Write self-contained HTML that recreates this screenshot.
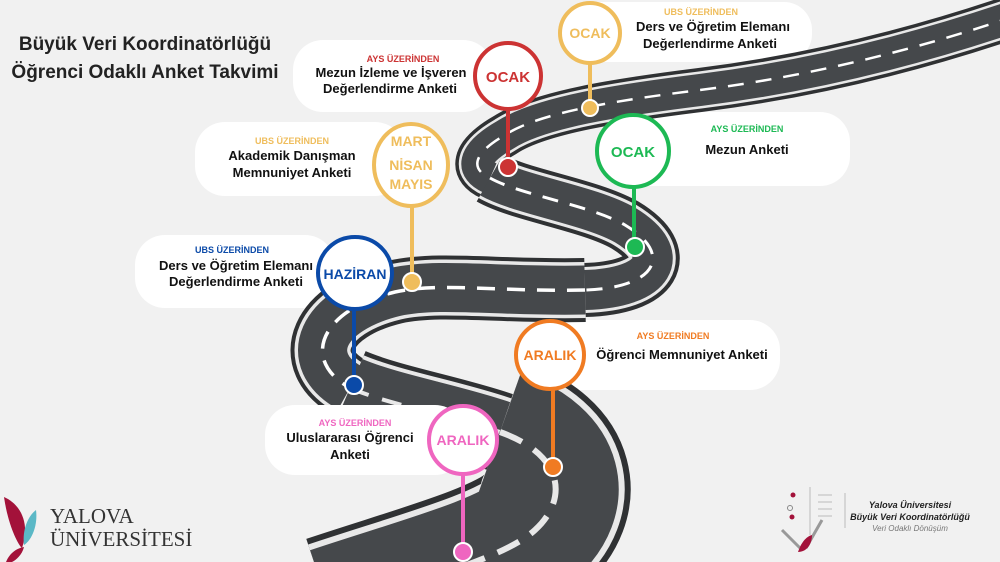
<!DOCTYPE html>
<html><head><meta charset="utf-8"><style>
html,body{margin:0;padding:0;width:1000px;height:562px;overflow:hidden;background:#f1f1f1;font-family:"Liberation Sans",sans-serif}
svg{display:block;position:absolute;left:0;top:0}
</style></head><body>
<svg width="1000" height="562" viewBox="0 0 1000 562" xmlns="http://www.w3.org/2000/svg" font-family="Liberation Sans, sans-serif" overflow="hidden">
<rect width="1000" height="562" fill="#f1f1f1"/>
<defs>
<path id="p1" d="M1015,16 C930,45 820,75 700,90 C620,100 540,112 505,135 C470,155 472,170 490,178"/>
<path id="p2" d="M490,178 C520,195 590,205 625,225 C675,255 655,288 585,290"/>
<path id="p3" d="M585,290 C500,292 440,282 395,292 C320,310 300,360 350,388"/>
<path id="p4" d="M350,388 C390,405 450,415 500,432"/>
<path id="p5" d="M500,432 C565,455 568,500 535,530 C505,558 420,580 330,610"/>
</defs>
<!-- cards -->
<g fill="#fff">
<rect x="565" y="2" width="247" height="60" rx="28"/>
<rect x="293" y="40" width="200" height="72" rx="30"/>
<rect x="610" y="112" width="240" height="74" rx="30"/>
<rect x="195" y="122" width="210" height="74" rx="30"/>
<rect x="135" y="235" width="200" height="73" rx="30"/>
<rect x="525" y="320" width="255" height="70" rx="30"/>
</g>
<!-- road -->
<g fill="none" stroke-linecap="butt">
<use href="#p1" stroke="#2f3133" stroke-width="44"/>
<use href="#p2" stroke="#2f3133" stroke-width="54"/>
<use href="#p3" stroke="#2f3133" stroke-width="64"/>
<use href="#p4" stroke="#2f3133" stroke-width="80"/>
<use href="#p5" stroke="#2f3133" stroke-width="150"/>
<use href="#p1" stroke="#e8e8e8" stroke-width="37"/>
<use href="#p2" stroke="#e8e8e8" stroke-width="46"/>
<use href="#p3" stroke="#e8e8e8" stroke-width="56"/>
<use href="#p4" stroke="#e8e8e8" stroke-width="71"/>
<use href="#p5" stroke="#e8e8e8" stroke-width="138"/>
<use href="#p1" stroke="#45484b" stroke-width="32"/>
<use href="#p2" stroke="#45484b" stroke-width="40"/>
<use href="#p3" stroke="#45484b" stroke-width="49"/>
<use href="#p4" stroke="#45484b" stroke-width="63"/>
<use href="#p5" stroke="#45484b" stroke-width="126"/>
<use href="#p1" stroke="#fff" stroke-width="2.5" stroke-dasharray="16 12"/>
<use href="#p2" stroke="#fff" stroke-width="3" stroke-dasharray="16 12"/>
<use href="#p3" stroke="#fff" stroke-width="3.5" stroke-dasharray="18 12"/>
<use href="#p4" stroke="#e8e8e8" stroke-width="4" stroke-dasharray="20 14"/>
<use href="#p5" stroke="#e8e8e8" stroke-width="6" stroke-dasharray="24 14"/>
</g>
<rect x="265" y="405" width="200" height="70" rx="30" fill="#fff"/>
<!-- title -->
<g font-weight="bold" font-size="19" fill="#222" text-anchor="middle">
<text x="145" y="50">Büyük Veri Koordinatörlüğü</text>
<text x="145" y="78">Öğrenci Odaklı Anket Takvimi</text>
</g>
<!-- pins -->
<g stroke-width="4" fill="#fff">
<line x1="590" y1="62" x2="590" y2="108" stroke="#efbd5c"/><circle cx="590" cy="33" r="30" stroke="#efbd5c"/><circle cx="590" cy="108" r="8" fill="#efbd5c" stroke="#fff" stroke-width="2"/>
<line x1="508" y1="108" x2="508" y2="167" stroke="#cc3333"/><circle cx="508" cy="76" r="33" stroke="#cc3333"/><circle cx="508" cy="167" r="9" fill="#cc3333" stroke="#fff" stroke-width="2"/>
<line x1="634" y1="186" x2="634" y2="247" stroke="#1db954"/><ellipse cx="633" cy="151" rx="36" ry="36" stroke="#1db954"/><circle cx="635" cy="247" r="9" fill="#1db954" stroke="#fff" stroke-width="2"/>
<line x1="412" y1="205" x2="412" y2="282" stroke="#efbd5c"/><ellipse cx="411" cy="165" rx="37" ry="41" stroke="#efbd5c"/><circle cx="412" cy="282" r="9" fill="#efbd5c" stroke="#fff" stroke-width="2"/>
<line x1="354" y1="308" x2="354" y2="385" stroke="#0b4aa8"/><ellipse cx="355" cy="273" rx="37" ry="36" stroke="#0b4aa8"/><circle cx="354" cy="385" r="9" fill="#0b4aa8" stroke="#fff" stroke-width="2"/>
<line x1="553" y1="388" x2="553" y2="467" stroke="#f07b22"/><ellipse cx="550" cy="355" rx="34" ry="34" stroke="#f07b22"/><circle cx="553" cy="467" r="9" fill="#f07b22" stroke="#fff" stroke-width="2"/>
<line x1="463" y1="474" x2="463" y2="552" stroke="#ef66c0"/><ellipse cx="463" cy="440" rx="34" ry="34" stroke="#ef66c0"/><circle cx="463" cy="552" r="9" fill="#ef66c0" stroke="#fff" stroke-width="2"/>
</g>
<!-- circle labels -->
<g font-weight="bold" text-anchor="middle" font-size="14">
<text x="590" y="38" fill="#efbd5c">OCAK</text>
<text x="508" y="82" fill="#cc3333" font-size="15">OCAK</text>
<text x="633" y="157" fill="#1db954" font-size="15">OCAK</text>
<text x="411" y="146" fill="#efbd5c">MART</text>
<text x="411" y="170" fill="#efbd5c">NİSAN</text>
<text x="411" y="189" fill="#efbd5c">MAYIS</text>
<text x="355" y="279" fill="#0b4aa8" font-size="14">HAZİRAN</text>
<text x="550" y="360" fill="#f07b22">ARALIK</text>
<text x="463" y="445" fill="#ef66c0">ARALIK</text>
</g>
<!-- card text -->
<g text-anchor="middle" font-weight="bold">
<text x="701" y="15" font-size="9" fill="#efbd5c">UBS ÜZERİNDEN</text>
<text x="713" y="31" font-size="13" fill="#111">Ders ve Öğretim Elemanı</text>
<text x="710" y="48" font-size="13" fill="#111">Değerlendirme Anketi</text>
<text x="403" y="62" font-size="9" fill="#cc3333">AYS ÜZERİNDEN</text>
<text x="391" y="77" font-size="13" fill="#111">Mezun İzleme ve İşveren</text>
<text x="390" y="93" font-size="13" fill="#111">Değerlendirme Anketi</text>
<text x="747" y="132" font-size="9" fill="#1db954">AYS ÜZERİNDEN</text>
<text x="747" y="154" font-size="13" fill="#111">Mezun Anketi</text>
<text x="292" y="144" font-size="9" fill="#efbd5c">UBS ÜZERİNDEN</text>
<text x="292" y="160" font-size="13" fill="#111">Akademik Danışman</text>
<text x="292" y="177" font-size="13" fill="#111">Memnuniyet Anketi</text>
<text x="232" y="253" font-size="9" fill="#0b4aa8">UBS ÜZERİNDEN</text>
<text x="236" y="270" font-size="13" fill="#111">Ders ve Öğretim Elemanı</text>
<text x="236" y="286" font-size="13" fill="#111">Değerlendirme Anketi</text>
<text x="673" y="339" font-size="9" fill="#f07b22">AYS ÜZERİNDEN</text>
<text x="682" y="359" font-size="13" fill="#111">Öğrenci Memnuniyet Anketi</text>
<text x="355" y="426" font-size="9" fill="#ef66c0">AYS ÜZERİNDEN</text>
<text x="350" y="442" font-size="13" fill="#111">Uluslararası Öğrenci</text>
<text x="350" y="459" font-size="13" fill="#111">Anketi</text>
</g>
<!-- Yalova logo -->
<path d="M4,497 C22,505 30,525 22,548 C18,545 8,525 4,497 Z" fill="#a3123a"/>
<path d="M36,510 C38,525 32,540 24,545 C22,530 28,516 36,510 Z" fill="#5bb8c6"/>
<path d="M6,562 C10,552 18,548 24,547 C22,555 16,560 12,562 Z" fill="#a3123a"/>
<g font-family="Liberation Serif, serif" fill="#333" font-size="21">
<text x="50" y="523">YALOVA</text>
<text x="50" y="546">ÜNİVERSİTESİ</text>
</g>
<!-- right logo -->
<g stroke="#bbb" stroke-width="1" fill="none">
<line x1="810" y1="487" x2="810" y2="535"/>
<line x1="845" y1="493" x2="845" y2="528"/>
<line x1="818" y1="495" x2="832" y2="495"/><line x1="818" y1="502" x2="832" y2="502"/><line x1="818" y1="509" x2="832" y2="509"/><line x1="818" y1="516" x2="832" y2="516"/>
<path d="M782,530 L800,548 M822,520 L806,548" stroke="#999" stroke-width="3"/>
</g>
<circle cx="793" cy="495" r="2.5" fill="#a3123a"/><circle cx="790" cy="508" r="2.5" fill="none" stroke="#888"/><circle cx="792" cy="517" r="2.5" fill="#a3123a"/>
<path d="M798,552 C802,540 808,536 812,535 C812,545 806,552 798,552 Z" fill="#a3123a"/>
<g font-style="italic" text-anchor="middle" fill="#222">
<text x="910" y="508" font-size="9" font-weight="bold">Yalova Üniversitesi</text>
<text x="910" y="520" font-size="9" font-weight="bold">Büyük Veri Koordinatörlüğü</text>
<text x="910" y="531" font-size="8" fill="#777">Veri Odaklı Dönüşüm</text>
</g>
</svg>
</body></html>
